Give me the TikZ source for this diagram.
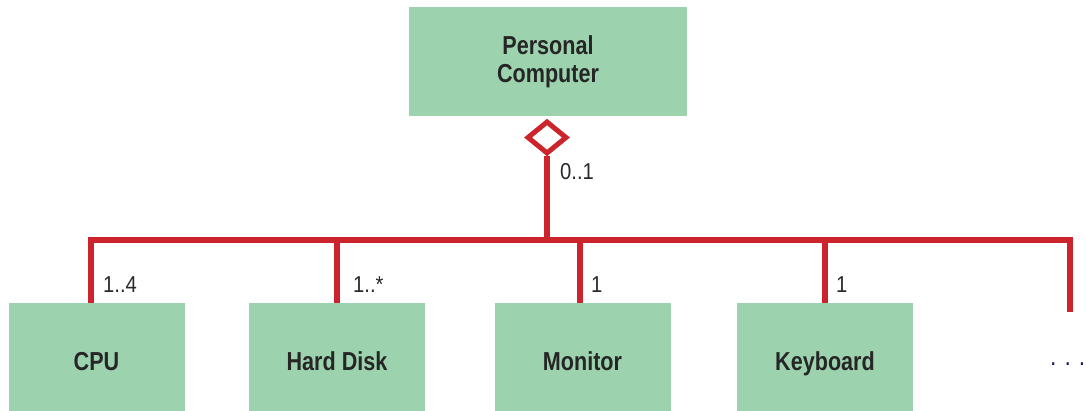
\documentclass[tikz,border=0pt]{standalone}
\usepackage{fontspec}
\newfontfamily\boxfont{Liberation Sans}[FakeStretch=0.83]
\newfontfamily\labfont{Liberation Sans}[FakeStretch=0.88]
\usetikzlibrary{shapes.geometric}
\definecolor{boxgreen}{RGB}{156,211,174}
\definecolor{busred}{RGB}{204,36,44}
\definecolor{labgray}{RGB}{40,40,45}
\tikzset{
  cls/.style={fill=boxgreen, draw=none, minimum width=176pt, minimum height=109pt, inner sep=0pt,
    font=\boxfont\bfseries\fontsize{26}{28}\selectfont, text=black!85, align=center},
  leaf/.style={cls, text height=25pt, text depth=0pt},
  bus/.style={draw=busred, line width=6.5pt, line join=miter},
  agg/.style={diamond, draw=busred, line width=5pt, fill=white, minimum width=40pt, minimum height=33pt, inner sep=0pt},
  mult/.style={font=\labfont\fontsize{23}{23}\selectfont, text=labgray, anchor=west, inner sep=0pt}
}
\begin{document}
\begin{tikzpicture}[x=1pt,y=-1pt]
\useasboundingbox (0,0) rectangle (1086,411);
\node[cls, minimum width=278pt] (pc) at (548,61.5) {Personal\\Computer};
\node[leaf] (cpu) at (96.5,357.5) {CPU};
\node[leaf] (hd) at (337,357.5) {Hard Disk};
\node[leaf] (mon) at (582.5,357.5) {Monitor};
\node[leaf] (kb) at (825,357.5) {Keyboard};
\node[agg, anchor=north] (dia) at (547,118.5) {};
\coordinate (bL) at (91,240);
\coordinate (bR) at (1070,240);
\coordinate (endR) at (1070,312);
\coordinate (monx) at (580,240);
\draw[bus] (cpu.north -| bL) -- (bL) -- (bR) -- (endR);
\draw[bus] (dia.south) -- (dia.south |- bL);
\draw[bus] (hd.north) -- (hd.north |- bL);
\draw[bus] (mon.north -| monx) -- (monx);
\draw[bus] (kb.north) -- (kb.north |- bL);
\node[mult] (m0) at (560,172) {0..1};
\node[mult] (m1) at (103,285) {1..4};
\node[mult] (m2) at (353,285) {1..*};
\node[mult] (m3) at (591,285) {1};
\node[mult] (m4) at (836,285) {1};
\node[font=\labfont\fontsize{26}{26}\selectfont, text=labgray!70!blue, anchor=west, inner sep=0pt] (more) at (1050,364) {.\hspace{8pt}.\hspace{8pt}.};
\end{tikzpicture}
\end{document}
